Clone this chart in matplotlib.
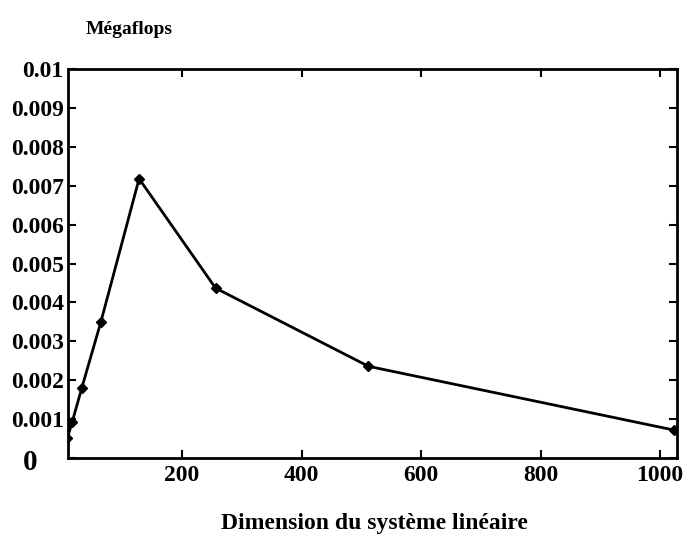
import matplotlib
matplotlib.use("Agg")
import matplotlib.pyplot as plt
import matplotlib.transforms as mtrans

dims = [8, 16, 32, 64, 128, 256, 512, 1024]
mflops = [0.00052, 0.00093, 0.0018, 0.0035, 0.00718, 0.00437, 0.00236, 0.00072]
xticks = [200, 400, 600, 800, 1000]
yticks = [0, 0.001, 0.002, 0.003, 0.004, 0.005, 0.006, 0.007, 0.008, 0.009, 0.01]
ylabels = ["", "0.001", "0.002", "0.003", "0.004", "0.005", "0.006", "0.007", "0.008", "0.009", "0.01"]

plt.rcParams['font.family'] = ['Liberation Serif', 'DejaVu Serif']
fig = plt.figure(figsize=(6.87, 5.39), dpi=100)
ax = fig.add_axes([0.099, 0.150, 0.886, 0.722])
ax.plot(dims, mflops, color='black', lw=2, marker='D', ms=5)
ax.set_xlim(9, 1028)
ax.set_ylim(0, 0.01)
ax.set_xticks(xticks)
ax.set_xticklabels([str(t) for t in xticks], fontsize=17, fontweight='bold')
ax.set_yticks(yticks)
ax.set_yticklabels(ylabels, fontsize=17, fontweight='bold')
ax.tick_params(direction='in', length=6, width=1.5, top=True, right=True, pad=3)
ax.tick_params(axis='x', pad=5)
for s in ax.spines.values():
    s.set_linewidth(2)
tr = mtrans.blended_transform_factory(ax.transAxes, ax.transData)
ax.text(-0.062, -0.0001, "0", transform=tr, fontsize=21, fontweight='bold',
        ha='center', va='center', clip_on=False)
fig.text(0.124, 0.945, "Mégaflops", fontsize=14, fontweight='bold', ha='left', va='center')
fig.text(0.545, 0.028, "Dimension du système linéaire", fontsize=17, fontweight='bold', ha='center', va='center')
fig.savefig("out.png", dpi=100)
